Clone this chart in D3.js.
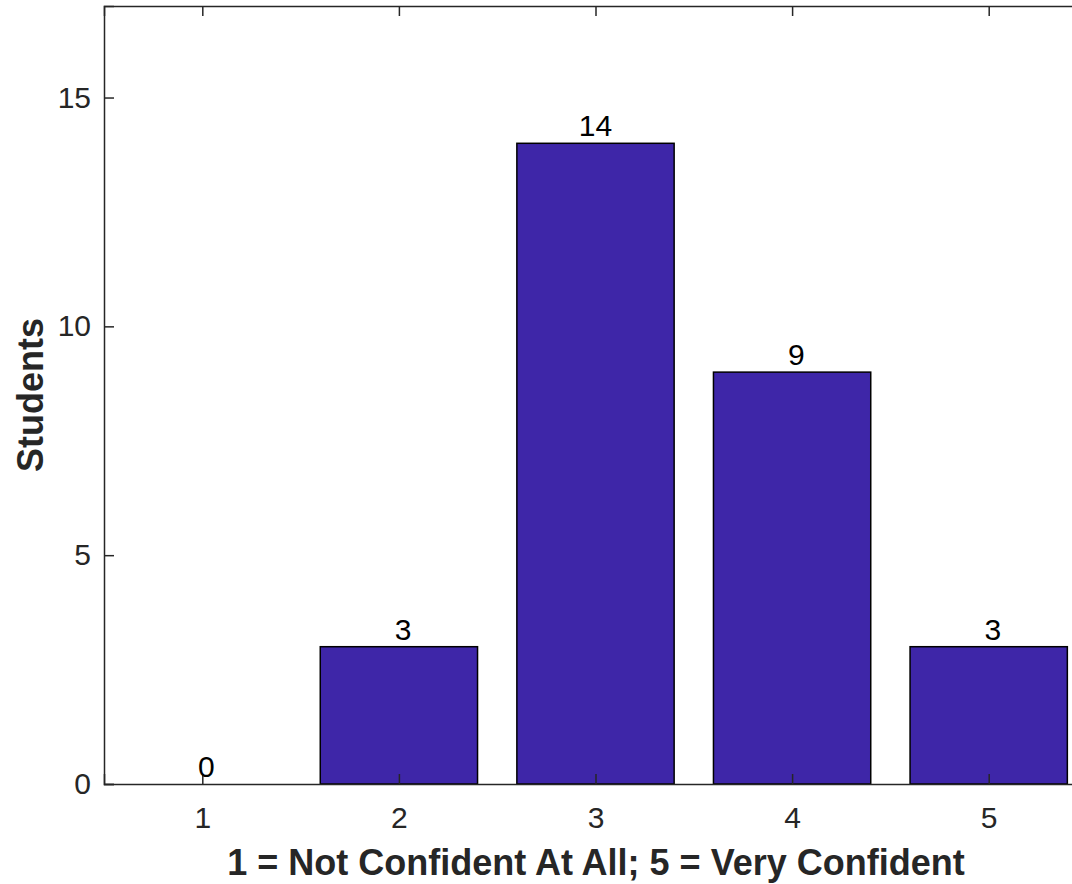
<!DOCTYPE html>
<html>
<head>
<meta charset="utf-8">
<script src="https://cdn.jsdelivr.net/npm/d3@7/dist/d3.min.js"></script>
<style>
  html, body { margin: 0; padding: 0; background: #fff; }
  svg { display: block; }
  text { font-family: "Liberation Sans", Arial, Helvetica, sans-serif; }
</style>
</head>
<body>
<svg id="chart" width="1072" height="884"></svg>
<script>
const categories = [1, 2, 3, 4, 5];
const counts = [0, 3, 14, 9, 3];
const yTicks = [0, 5, 10, 15];
const xLabel = "1 = Not Confident At All; 5 = Very Confident";
const yLabel = "Students";

(function () {
const svg = d3.select("#chart");
const axisColor = "#262626";
const barColor = "rgb(62,38,168)";

const plotLeft = 104, plotTop = 6, plotBottom = 784;
const x = d3.scaleLinear().domain([0.5, 5.5]).range([plotLeft, 1087]);
const y = d3.scaleLinear().domain([0, 17]).range([plotBottom, plotTop]);
const barW = (x(2) - x(1)) * 0.8;

// bars
svg.append("g").selectAll("rect").data(categories).join("rect")
  .attr("x", (d) => x(d) - barW / 2)
  .attr("width", barW)
  .attr("y", (d, i) => y(counts[i]))
  .attr("height", (d, i) => y(0) - y(counts[i]))
  .attr("fill", barColor)
  .attr("stroke", "#000")
  .attr("stroke-width", 1.5);

// axes (MATLAB style: ticks inward)
const xAxisB = d3.axisBottom(x).tickValues(categories).tickSize(-10).tickPadding(20).tickFormat(d3.format("d"));
const xAxisT = d3.axisTop(x).tickValues(categories).tickSize(-10).tickFormat("");
const yAxisL = d3.axisLeft(y).tickValues(yTicks).tickSize(-10).tickPadding(13).tickFormat(d3.format("d"));

function style(g) {
  g.selectAll("path.domain").attr("stroke", axisColor).attr("stroke-width", 1.5);
  g.selectAll(".tick line").attr("stroke", axisColor).attr("stroke-width", 1.5);
  g.selectAll(".tick text").attr("fill", axisColor).style("font-size", "30px")
    .style("font-family", '"Liberation Sans", Arial, sans-serif');
}
const gB = svg.append("g").attr("transform", `translate(0,${plotBottom})`).call(xAxisB).call(style);
gB.selectAll(".tick text").attr("dy", "0.71em").attr("y", 23);
svg.append("g").attr("transform", `translate(0,${plotTop})`).call(xAxisT).call(style);
svg.append("g").attr("transform", `translate(${plotLeft},0)`).call(yAxisL).call(style);

// value labels (formatted as %2d, like the source)
svg.append("g").selectAll("text").data(categories).join("text")
  .attr("x", (d) => x(d))
  .attr("y", (d, i) => y(counts[i]) - 7)
  .attr("text-anchor", "middle")
  .attr("fill", "#000")
  .style("font-size", "30px")
  .style("white-space", "pre")
  .attr("xml:space", "preserve")
  .text((d, i) => String(counts[i]).padStart(2, " "));

// axis labels
svg.append("text")
  .attr("x", 596).attr("y", 875)
  .attr("text-anchor", "middle")
  .attr("fill", axisColor)
  .style("font-size", "36px").style("font-weight", "bold")
  .text(xLabel);

svg.append("text")
  .attr("transform", `translate(43,${y(8.5)}) rotate(-90)`)
  .attr("text-anchor", "middle")
  .attr("fill", axisColor)
  .style("font-size", "36px").style("font-weight", "bold")
  .text(yLabel);
})();
</script>
</body>
</html>
